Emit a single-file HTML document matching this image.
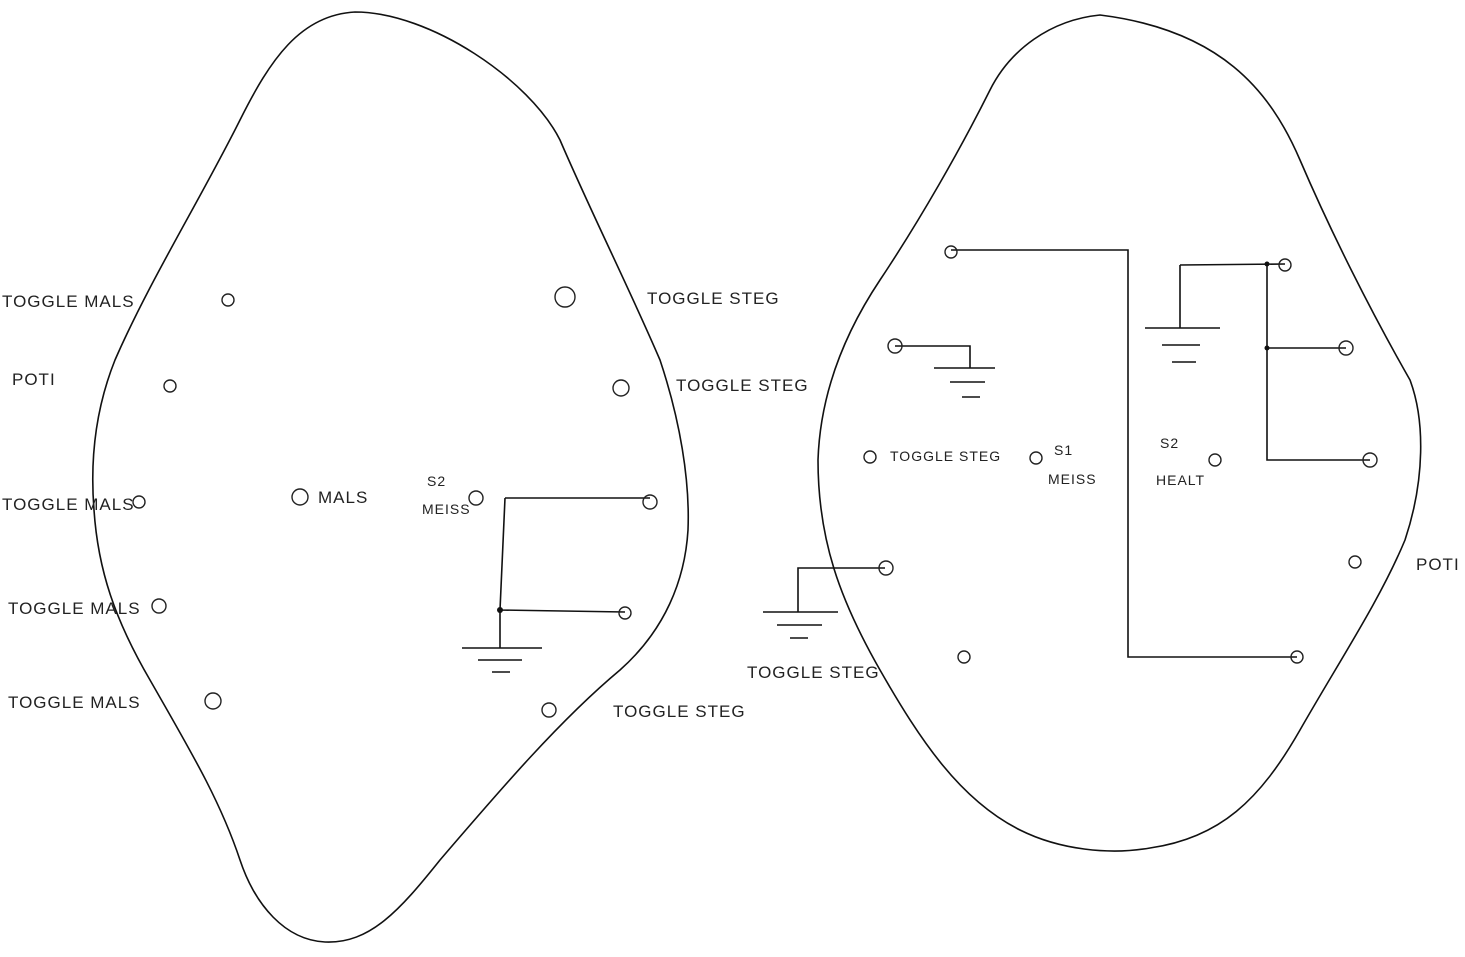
<!DOCTYPE html>
<html><head><meta charset="utf-8"><style>
html,body{margin:0;padding:0;background:#fff}
svg{display:block}
text{font-family:"Liberation Sans",sans-serif;font-size:17px;fill:#222;letter-spacing:1px}
.s{font-size:14px}
</style></head><body>
<svg width="1465" height="957" viewBox="0 0 1465 957" xmlns="http://www.w3.org/2000/svg">
<g fill="none" stroke="#111" stroke-width="1.6">
<path d="M355,12 C300,15 270,60 240,120 C200,200 150,280 115,360 C95,410 90,460 94,510 C98,570 115,620 150,680 C190,750 220,800 240,860 C255,905 285,940 325,942 C370,944 400,910 440,860 C500,790 560,720 620,670 C665,630 685,580 688,530 C690,480 680,420 660,360 C630,290 590,210 560,140 C530,80 430,12 355,12 Z"/>
<path d="M1100,15 C1050,20 1010,50 990,90 C960,150 920,220 880,280 C840,340 820,400 818,460 C818,540 840,600 880,670 C920,740 960,800 1020,830 C1060,850 1110,855 1150,848 C1220,838 1260,800 1300,730 C1340,660 1380,600 1405,540 C1425,480 1425,420 1410,380 C1370,310 1330,230 1300,160 C1270,90 1220,30 1100,15 Z"/>
<!-- left circuit -->
<path d="M505,498 L650,498 M505,498 L500,610 L500,648 M500,610 L625,612 M462,648 L542,648 M478,660 L522,660 M492,672 L510,672"/>
<!-- right circuit -->
<path d="M951,250 L1128,250 L1128,657 L1297,657"/>
<path d="M1180,265 L1285,264 M1180,265 L1180,328 M1145,328 L1220,328 M1162,345 L1200,345 M1172,362 L1196,362"/>
<path d="M1267,264 L1267,460 L1370,460 M1267,348 L1346,348"/>
<path d="M895,346 L970,346 L970,368 M934,368 L995,368 M950,382 L985,382 M962,397 L980,397"/>
<path d="M885,568 L798,568 L798,612 M763,612 L838,612 M777,625 L822,625 M790,638 L808,638"/>
</g>
<g fill="#111"><circle cx="500" cy="610" r="3"/><circle cx="1267" cy="264" r="2.5"/><circle cx="1267" cy="348" r="2.5"/></g>
<g fill="none" stroke="#222" stroke-width="1.4">
<circle cx="228" cy="300" r="6"/><circle cx="565" cy="297" r="10"/><circle cx="170" cy="386" r="6"/><circle cx="621" cy="388" r="8"/>
<circle cx="139" cy="502" r="6"/><circle cx="300" cy="497" r="8"/><circle cx="476" cy="498" r="7"/><circle cx="650" cy="502" r="7"/>
<circle cx="159" cy="606" r="7"/><circle cx="625" cy="613" r="6"/><circle cx="213" cy="701" r="8"/><circle cx="549" cy="710" r="7"/>
<circle cx="951" cy="252" r="6"/><circle cx="1285" cy="265" r="6"/><circle cx="895" cy="346" r="7"/><circle cx="1346" cy="348" r="7"/>
<circle cx="870" cy="457" r="6"/><circle cx="1036" cy="458" r="6"/><circle cx="1215" cy="460" r="6"/><circle cx="1370" cy="460" r="7"/>
<circle cx="886" cy="568" r="7"/><circle cx="1355" cy="562" r="6"/><circle cx="964" cy="657" r="6"/><circle cx="1297" cy="657" r="6"/>
</g>
<text x="2" y="307">TOGGLE  MALS</text>
<text x="647" y="304">TOGGLE  STEG</text>
<text x="12" y="385">POTI</text>
<text x="676" y="391">TOGGLE  STEG</text>
<text x="2" y="510">TOGGLE MALS</text>
<text x="318" y="503">MALS</text>
<text x="427" y="486" class="s">S2</text>
<text x="422" y="514" class="s">MEISS</text>
<text x="8" y="614">TOGGLE  MALS</text>
<text x="8" y="708">TOGGLE  MALS</text>
<text x="613" y="717">TOGGLE  STEG</text>
<text x="747" y="678">TOGGLE  STEG</text>
<text x="890" y="461" class="s">TOGGLE STEG</text>
<text x="1054" y="455" class="s">S1</text>
<text x="1048" y="484" class="s">MEISS</text>
<text x="1160" y="448" class="s">S2</text>
<text x="1156" y="485" class="s">HEALT</text>
<text x="1416" y="570">POTI</text>
</svg>
</body></html>
